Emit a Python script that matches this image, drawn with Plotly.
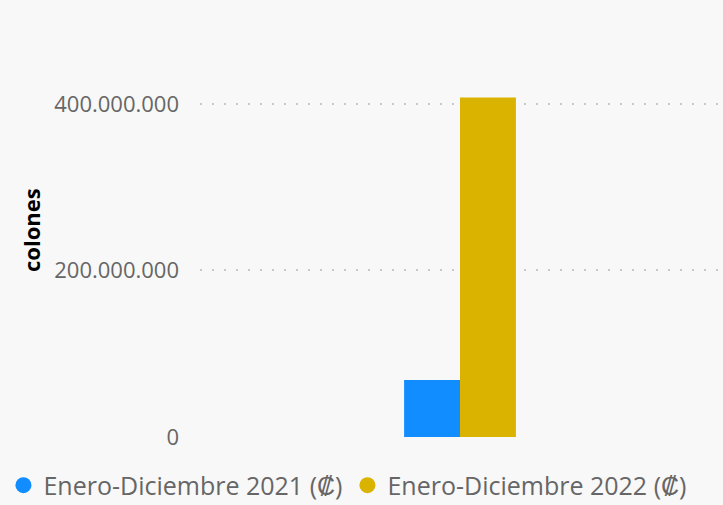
import plotly.graph_objects as go

# Data
categories = ["Total"]
series_names = ["Enero-Diciembre 2021 (₡)", "Enero-Diciembre 2022 (₡)"]
series_values = [[68_500_000], [407_500_000]]
colors = ["#118DFF", "#D9B300"]
tick_vals = [0, 200_000_000, 400_000_000]
tick_text = ["0", "200.000.000", "400.000.000"]
y_title = "colones"

fig = go.Figure()
for name, vals, col in zip(series_names, series_values, colors):
    fig.add_trace(go.Bar(x=categories, y=vals, name=name, marker_color=col,
                         marker_line_width=0, showlegend=False))
    # circular legend swatch
    fig.add_trace(go.Scatter(x=[None], y=[None], mode="markers", name=name,
                             marker=dict(symbol="circle", size=19, color=col)))

fig.update_layout(
    width=723, height=505,
    paper_bgcolor="#F8F8F8", plot_bgcolor="#F8F8F8",
    margin=dict(l=200, r=3, t=23, b=68, autoexpand=False),
    barmode="group", bargap=0.785, bargroupgap=0,
    font=dict(family="Open Sans, sans-serif", color="#666666", size=22),
    showlegend=True,
    legend=dict(orientation="h", xref="paper", yref="paper",
                x=-0.378, xanchor="left", y=-0.117, yanchor="middle",
                font=dict(size=25, color="#666666"), itemwidth=30,
                bgcolor="rgba(0,0,0,0)", tracegroupgap=0),
    xaxis=dict(showticklabels=False, showgrid=False, zeroline=False, showline=False,
               ticks=""),
    yaxis=dict(range=[0, 497_000_000], tickvals=tick_vals, ticktext=tick_text,
               showgrid=True, gridcolor="#C8C8C8", gridwidth=2, griddash="2px,10px",
               zeroline=False, showline=False, ticks="", ticklabelstandoff=20,
               tickfont=dict(size=22, color="#666666")),
)

# vertical axis title
fig.add_annotation(text=f"<b>{y_title}</b>", textangle=-90, showarrow=False,
                   xref="paper", yref="paper", x=-0.325, y=0.5,
                   xanchor="center", yanchor="middle",
                   font=dict(size=22, color="#000000"))

fig.write_html("out.html")
